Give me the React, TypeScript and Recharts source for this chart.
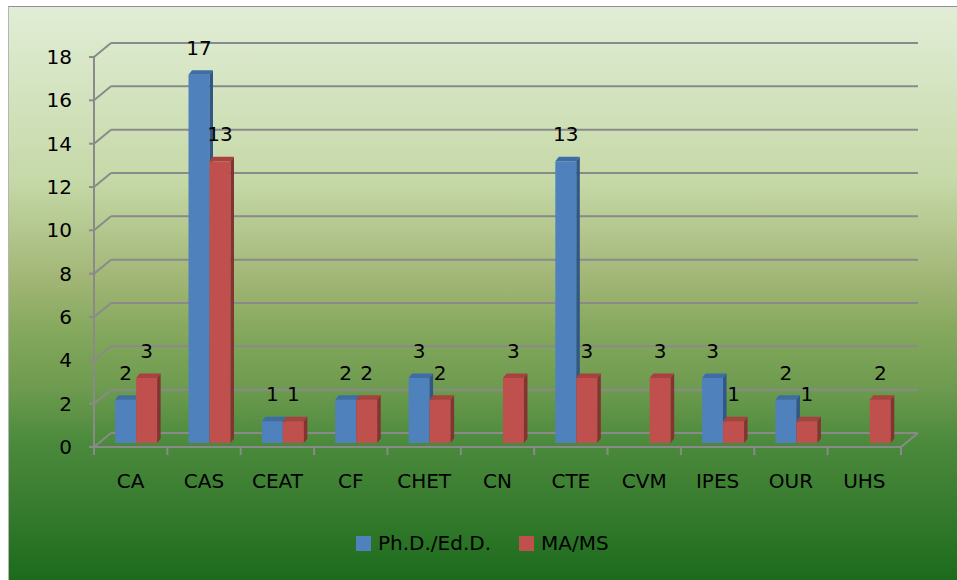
import { BarChart, Bar, XAxis, YAxis, CartesianGrid, Legend } from 'recharts';

const categories = ['CA', 'CAS', 'CEAT', 'CF', 'CHET', 'CN', 'CTE', 'CVM', 'IPES', 'OUR', 'UHS'];
const phdValues = [2, 17, 1, 2, 3, null, 13, null, 3, 2, null];
const mamsValues = [3, 13, 1, 2, 2, 3, 3, 3, 1, 1, 2];
const yTicks = [0, 2, 4, 6, 8, 10, 12, 14, 16, 18];

const data = categories.map((name, i) => ({ name, phd: phdValues[i], mams: mamsValues[i] }));

const FONT = 'DejaVu Sans';
const GRID = '#8a8a8a';
// 3d offsets: back wall and bar depth
const WALL_DX = 17, WALL_DY = -14;
const BAR_DX = 5, BAR_DY = -4;
const TOP_DX = 3.5, TOP_DY = -4.5;
const PLOT_W = 807;
const HALF_BAND = PLOT_W / categories.length / 2;

const series = [
  { key: 'phd', name: 'Ph.D./Ed.D.', front: '#4f81bd', top: '#3e6ca6', side: '#30578a' },
  { key: 'mams', name: 'MA/MS', front: '#c0504d', top: '#a9413e', side: '#853331' },
];

function makeShape(s: typeof series[number]) {
  return (p: any) => {
    if (p.payload == null || p.payload[s.key] == null) return <g />;
    const x = p.x + BAR_DX, y = p.y + BAR_DY, w = p.width, h = p.height;
    return (
      <g>
        <rect x={x} y={y} width={w} height={h} fill={s.front} />
        <polygon points={`${x},${y} ${x + w},${y} ${x + w + TOP_DX},${y + TOP_DY} ${x + TOP_DX},${y + TOP_DY}`} fill={s.top} />
        <polygon points={`${x + w},${y} ${x + w + TOP_DX},${y + TOP_DY} ${x + w + TOP_DX},${y + h + TOP_DY} ${x + w},${y + h}`} fill={s.side} />
      </g>
    );
  };
}

function renderLabel(p: any) {
  if (p.value == null) return null;
  return (
    <text x={p.x + BAR_DX + p.width / 2} y={p.y + BAR_DY - 20} textAnchor="middle" fontSize={20} fontFamily={FONT} fill="#000">
      {p.value}
    </text>
  );
}

function gridLine(p: any) {
  const isFloor = p.index === 0;
  return (
    <g key={p.key}>
      <line x1={p.x1 + WALL_DX} y1={p.y1 + WALL_DY} x2={p.x2 + WALL_DX} y2={p.y2 + WALL_DY} stroke={GRID} strokeWidth={2} />
      <line x1={p.x1} y1={p.y1} x2={p.x1 + WALL_DX} y2={p.y1 + WALL_DY} stroke={GRID} strokeWidth={2} />
      {isFloor && <line x1={p.x2} y1={p.y2} x2={p.x2 + WALL_DX} y2={p.y2 + WALL_DY} stroke={GRID} strokeWidth={2} />}
    </g>
  );
}

function XTick(p: any) {
  const cx = p.payload.coordinate;
  return (
    <g>
      {p.index === 0 && <line x1={cx - HALF_BAND} y1={p.y} x2={cx - HALF_BAND} y2={p.y + 8} stroke={GRID} strokeWidth={2} />}
      <line x1={cx + HALF_BAND} y1={p.y} x2={cx + HALF_BAND} y2={p.y + 8} stroke={GRID} strokeWidth={2} />
      <text x={cx} y={p.y + 41} textAnchor="middle" fontSize={20} fontFamily={FONT} fill="#000">{p.payload.value}</text>
    </g>
  );
}

function LegendContent() {
  return (
    <div style={{ display: 'flex', alignItems: 'center', fontFamily: FONT, fontSize: 20, color: '#000' }}>
      {series.map((s, i) => (
        <div key={s.key} style={{ display: 'flex', alignItems: 'center', marginRight: i === 0 ? 28 : 0 }}>
          <span style={{ width: 15, height: 15, background: s.front, marginRight: 7, display: 'inline-block' }} />
          <span>{s.name}</span>
        </div>
      ))}
    </div>
  );
}

export default function App() {
  return (
    <div style={{ position: 'absolute', left: 0, top: 0, width: 957, height: 580 }}>
      <div style={{
        position: 'absolute', left: 8, top: 6, width: 949, height: 574, boxSizing: 'border-box',
        borderTop: '1px solid #8f8f8f', borderLeft: '1px solid #b5b5b5',
        background: 'linear-gradient(to bottom, #e1edd6 0%, #c6d9a8 30%, #a0b574 48%, #86a95e 56%, #6c9a4e 67%, #4b8a3c 76%, #3a7d30 86%, #1c6b1c 100%)',
      }} />
      <div style={{ position: 'absolute', left: 0, top: 0 }}>
        <BarChart width={957} height={580} data={data} margin={{ top: 57, right: 56, bottom: 103, left: 0 }}
          barCategoryGap="22%" barGap={0} style={{ fontFamily: FONT }}>
          <CartesianGrid vertical={false} horizontal={gridLine} />
          <XAxis dataKey="name" interval={0} tickSize={0} tickMargin={0} height={30}
            axisLine={{ stroke: GRID, strokeWidth: 2 }} tickLine={false} tick={<XTick />} />
          <YAxis domain={[0, 18]} ticks={yTicks} width={94} tickSize={5} tickMargin={17}
            axisLine={{ stroke: GRID, strokeWidth: 2 }} tickLine={{ stroke: GRID, strokeWidth: 2 }}
            tick={{ fill: '#000', fontSize: 20, fontFamily: FONT }} />
          <Legend verticalAlign="middle" align="center" layout="horizontal" content={<LegendContent />}
            wrapperStyle={{ top: 531, left: 356, width: 'auto' }} />
          {series.map(s => (
            <Bar key={s.key} dataKey={s.key} name={s.name} fill={s.front} isAnimationActive={false}
              shape={makeShape(s)} label={renderLabel} />
          ))}
        </BarChart>
      </div>
    </div>
  );
}
